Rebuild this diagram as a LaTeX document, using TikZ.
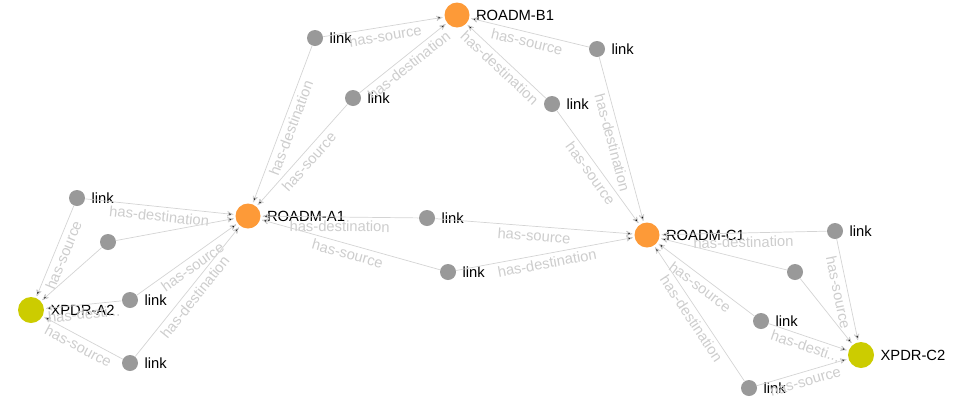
\documentclass[tikz,border=0pt]{standalone}
\usepackage{fontspec}
\setmainfont{Liberation Sans}
\usetikzlibrary{arrows}
\definecolor{roadmorange}{HTML}{FD9A38}
\definecolor{xpdrgreen}{HTML}{CCCC00}
\definecolor{linkgray}{HTML}{999999}
\definecolor{edgegray}{HTML}{D4D4D4}
\definecolor{relgray}{HTML}{CDCDCD}

\begin{document}
\begin{tikzpicture}[x=0.02cm,y=-0.02cm,>=stealth',shorten >=1pt,
  every node/.style={font=\fontsize{8.4}{10}\selectfont},
  roadm/.style={circle,fill=roadmorange,minimum size=0.5cm,inner sep=0pt},
  xpdr/.style={circle,fill=xpdrgreen,minimum size=0.52cm,inner sep=0pt},
  lk/.style={circle,fill=linkgray,minimum size=0.32cm,inner sep=0pt},
  rel/.style={midway,sloped,below=1pt,text=relgray,inner sep=1pt},
  rel edge/.style={->,draw=edgegray,thin}]
\useasboundingbox (0,0) rectangle (955,400);

\node[roadm,label=right:ROADM-B1] (B1) at (457,15)  {};
\node[roadm,label=right:ROADM-A1] (A1) at (248,216) {};
\node[roadm,label=right:ROADM-C1] (C1) at (647,235) {};
\node[xpdr,label=right:XPDR-A2]   (A2) at (31,310)  {};
\node[xpdr,label=right:XPDR-C2]   (C2) at (861,355) {};

\node[lk,label=right:link] (l1)  at (315,38)  {};
\node[lk,label=right:link] (l2)  at (353,98)  {};
\node[lk,label=right:link] (l3)  at (597,49)  {};
\node[lk,label=right:link] (l4)  at (552,104) {};
\node[lk,label=right:link] (l5)  at (427,218) {};
\node[lk,label=right:link] (l6)  at (448,272) {};
\node[lk,label=right:link] (l7)  at (77,198)  {};
\node[lk]                  (l8)  at (108,242) {};
\node[lk,label=right:link] (l9)  at (130,300) {};
\node[lk,label=right:link] (l10) at (130,363) {};
\node[lk,label=right:link] (l11) at (835,231) {};
\node[lk]                  (l12) at (795,272) {};
\node[lk,label=right:link] (l13) at (761,321) {};
\node[lk,label=right:link] (l14) at (749,388) {};

\path[rel edge]
  (l1)  edge node[rel] {has-source}      (B1)
        edge node[rel] {has-destination} (A1)
  (l2)  edge node[rel] {has-destination} (B1)
        edge node[rel] {has-source}      (A1)
  (l3)  edge node[rel] {has-source}      (B1)
        edge node[rel] {has-destination} (C1)
  (l4)  edge node[rel] {has-destination} (B1)
        edge node[rel] {has-source}      (C1)
  (l5)  edge node[rel] {has-destination} (A1)
        edge node[rel] {has-source}      (C1)
  (l6)  edge node[rel] {has-source}      (A1)
        edge node[rel] {has-destination} (C1)
  (l7)  edge node[rel] {has-destination} (A1)
        edge node[rel] {has-source}      (A2)
  (l8)  edge (A1)
        edge (A2)
  (l9)  edge node[rel] {has-source}      (A1)
        edge node[rel] {has-desti...}    (A2)
  (l10) edge node[rel] {has-destination} (A1)
        edge node[rel] {has-source}      (A2)
  (l11) edge node[rel] {has-destination} (C1)
        edge node[rel] {has-source}      (C2)
  (l12) edge (C1)
        edge (C2)
  (l13) edge node[rel] {has-source}      (C1)
        edge node[rel] {has-desti...}    (C2)
  (l14) edge node[rel] {has-destination} (C1)
        edge node[rel] {has-source}      (C2);
\end{tikzpicture}
\end{document}
